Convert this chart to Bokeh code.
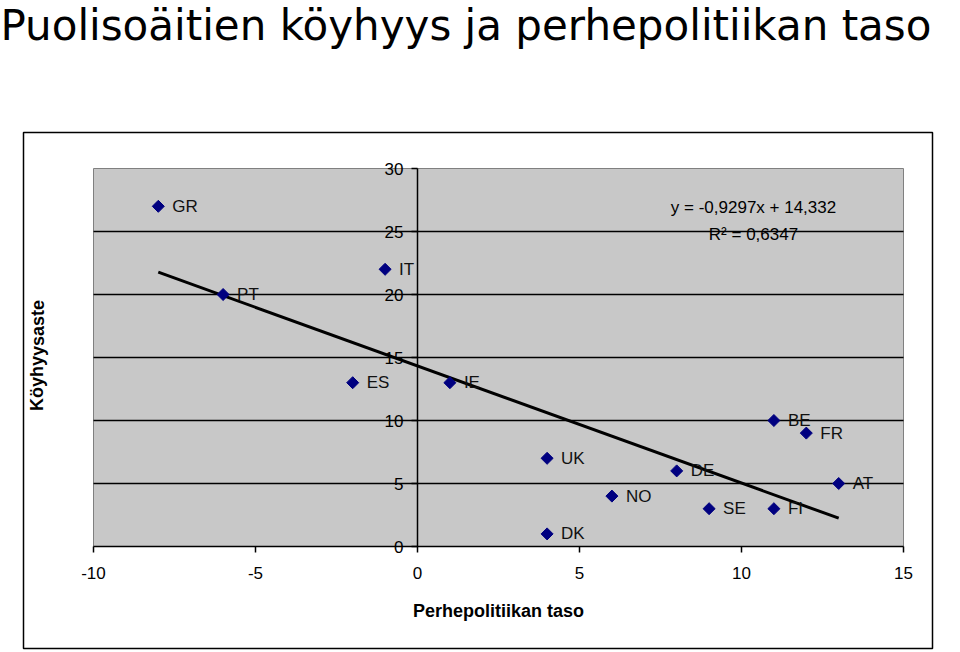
from bokeh.plotting import figure
from bokeh.models import (ColumnDataSource, LabelSet, Label, BoxAnnotation,
                          FixedTicker, Range1d)
from bokeh.core.properties import value
from bokeh.embed import file_html
from bokeh.resources import INLINE

# ---- data ----
countries = ["GR", "PT", "IT", "ES", "IE", "UK", "DK", "NO", "DE", "SE", "FI", "BE", "FR", "AT"]
family_policy = [-8, -6, -1, -2, 1, 4, 4, 6, 8, 9, 11, 11, 12, 13]
poverty = [27, 20, 22, 13, 13, 7, 1, 4, 6, 3, 3, 10, 9, 5]
slope = -0.9297
intercept = 14.332
r_squared = 0.6347
x_ticks = [-10, -5, 0, 5, 10, 15]
y_ticks = [0, 5, 10, 15, 20, 25, 30]
grid_ticks = [5, 10, 15, 20, 25]
title_text = "Puolisoäitien köyhyys ja perhepolitiikan taso"
x_title = "Perhepolitiikan taso"
y_title = "Köyhyysaste"

FONT = "Liberation Sans"
TITLE_FONT = "DejaVu Sans"
W, H = 960, 652
# plot-area placement on the page (pixels)
PA_LEFT, PA_RIGHT, PA_TOP, PA_BOTTOM = 93, 903, 168, 546

xmin, xmax = x_ticks[0], x_ticks[-1]
ymin, ymax = y_ticks[0], y_ticks[-1]
xs = (PA_RIGHT - PA_LEFT) / (xmax - xmin)
ys = (PA_BOTTOM - PA_TOP) / (ymax - ymin)
x_range = Range1d(xmin - PA_LEFT / xs, xmax + (W - PA_RIGHT) / xs)
y_range = Range1d(ymin - (H - PA_BOTTOM) / ys, ymax + PA_TOP / ys)

p = figure(width=W, height=H, output_backend="svg", toolbar_location=None,
           x_range=x_range, y_range=y_range, min_border=0)
p.background_fill_color = "white"
p.border_fill_color = "white"
p.outline_line_color = None
p.xgrid.visible = False
p.ygrid.visible = False

# gray plot area
p.quad(left=[xmin], right=[xmax], bottom=[ymin], top=[ymax],
       fill_color="#C8C8C8", line_color="#808080", line_width=1, level="image")
# horizontal gridlines
p.segment(x0=[xmin] * len(grid_ticks), x1=[xmax] * len(grid_ticks),
          y0=grid_ticks, y1=grid_ticks, line_color="black", line_width=1.5,
          level="underlay")

# x axis at y = 0
xa = p.xaxis[0]
xa.fixed_location = 0
xa.bounds = (xmin, xmax)
xa.ticker = FixedTicker(ticks=x_ticks)
xa.major_label_overrides = {t: str(t) for t in x_ticks}
xa.axis_line_color = "black"
xa.axis_line_width = 1.5
xa.major_tick_line_color = "black"
xa.major_tick_line_width = 1.5
xa.major_tick_out = 6
xa.major_tick_in = 0
xa.minor_tick_line_color = None
xa.major_label_text_font = FONT
xa.major_label_text_font_size = "17px"
xa.major_label_text_color = "black"
xa.major_label_standoff = 14
xa.axis_label = x_title
xa.axis_label_text_font = FONT
xa.axis_label_text_font_size = "18px"
xa.axis_label_text_font_style = "bold"
xa.axis_label_text_color = "black"
xa.axis_label_standoff = 19

# y axis at x = 0
ya = p.yaxis[0]
ya.fixed_location = 0
ya.bounds = (ymin, ymax)
ya.ticker = FixedTicker(ticks=y_ticks)
ya.axis_line_color = "black"
ya.axis_line_width = 1.5
ya.major_tick_line_color = "black"
ya.major_tick_line_width = 1.5
ya.major_tick_out = 6
ya.major_tick_in = 0
ya.minor_tick_line_color = None
ya.major_label_text_font = FONT
ya.major_label_text_font_size = "17px"
ya.major_label_text_color = "black"
ya.major_label_standoff = 8

# trend line
x0, x1 = min(family_policy), max(family_policy)
p.line([x0, x1], [slope * x0 + intercept, slope * x1 + intercept],
       line_color="black", line_width=3)

# points
src = ColumnDataSource(dict(x=family_policy, y=poverty, name=countries))
p.scatter("x", "y", source=src, marker="square", angle=0.785398, size=8.5,
          fill_color="#000080", line_color="#000080")
p.add_layout(LabelSet(x="x", y="y", text="name", source=src, x_offset=14,
                      text_baseline="middle", text_font=value(FONT),
                      text_font_size="17px", text_color="#111111"))

# regression equation
eq = f"y = {slope:.4f}x + {intercept:.3f}".replace(".", ",")
r2 = f"R² = {r_squared:.4f}".replace(".", ",")
p.add_layout(Label(x=753, y=H - 207, x_units="screen", y_units="screen", text=eq,
                   text_align="center", text_baseline="middle", text_font=FONT,
                   text_font_size="17px", text_color="black"))
p.add_layout(Label(x=753, y=H - 234, x_units="screen", y_units="screen", text=r2,
                   text_align="center", text_baseline="middle", text_font=FONT,
                   text_font_size="17px", text_color="black"))

# page title and y title
p.add_layout(Label(x=0, y=H - 25, x_units="screen", y_units="screen",
                   text=title_text, text_font=TITLE_FONT, text_font_size="42px",
                   text_baseline="middle", text_color="black"))
p.add_layout(Label(x=37, y=H - 355, x_units="screen", y_units="screen",
                   text=y_title, text_font=FONT, text_font_size="18px",
                   text_font_style="bold", text_align="center", angle=1.570796,
                   text_baseline="middle", text_color="black"))

# outer chart border
p.add_layout(BoxAnnotation(left=23, right=932, bottom=H - 648, top=H - 132,
                           left_units="screen", right_units="screen",
                           bottom_units="screen", top_units="screen",
                           fill_color=None, fill_alpha=0, line_color="black",
                           line_alpha=1.0, line_width=1.5))

open("out.html", "w").write(file_html(p, INLINE))
